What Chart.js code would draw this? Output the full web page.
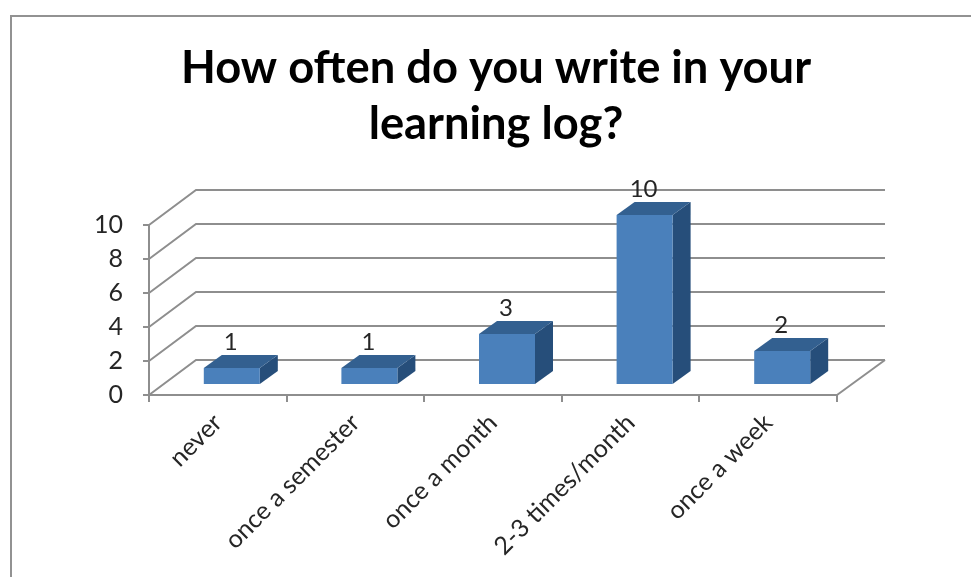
<!DOCTYPE html>
<html>
<head>
<meta charset="utf-8">
<script src="https://cdn.jsdelivr.net/npm/chart.js@4"></script>
<style>
  html, body { margin: 0; padding: 0; background: #fff; overflow: hidden; }
  #frame { position: absolute; left: 10px; top: 15px; width: 961px; height: 562px;
           border-top: 2px solid #929292; border-left: 2px solid #929292; box-sizing: border-box; }
  #wrap { position: absolute; left: 0; top: 0; width: 971px; height: 577px; filter: blur(0.4px); }
</style>
</head>
<body>
<div id="frame"></div>
<div id="wrap"><canvas id="chart"></canvas></div>
<script>
const titleLines = ["How often do you write in your", "learning log?"];
const categories = ["never", "once a semester", "once a month", "2-3 times/month", "once a week"];
const responses = [1, 1, 3, 10, 2];

const textColor = "#262626";
const gridColor = "#8e8e8e";
const frontColor = "#4a80bb";
const topColor = "#336090";
const sideColor = "#264e7a";

// fake 3d: back wall offset, and where the bars sit on the floor
const wallDx = 47, wallDy = 35;
const barDx = 14, barDy = 10;
const depthDx = 18, depthDy = 13;

function line(ctx, points) {
  ctx.beginPath();
  points.forEach((p, i) => (i ? ctx.lineTo(p[0], p[1]) : ctx.moveTo(p[0], p[1])));
  ctx.stroke();
}

function face(ctx, points, color) {
  ctx.beginPath();
  points.forEach((p, i) => (i ? ctx.lineTo(p[0], p[1]) : ctx.moveTo(p[0], p[1])));
  ctx.closePath();
  ctx.fillStyle = color;
  ctx.fill();
}

const fake3d = {
  id: "fake3d",
  beforeDraw(chart) {
    // centre the title on the whole frame, not on the padded area
    chart.titleBlock.left = 21;
    chart.titleBlock.right = 971;
  },
  beforeDatasetsDraw(chart) {
    const { ctx, scales } = chart;
    const left = scales.x.left, right = scales.x.right;
    ctx.save();
    ctx.strokeStyle = gridColor;
    ctx.lineWidth = 2;
    scales.y.ticks.forEach((tick) => {
      const y = scales.y.getPixelForValue(tick.value);
      line(ctx, [[left, y], [left + wallDx, y - wallDy], [right + wallDx + 1, y - wallDy]]);
    });
    const floor = scales.y.getPixelForValue(0);
    line(ctx, [[right, floor], [right + wallDx + 1, floor - wallDy]]);
    ctx.restore();
  },
  beforeDatasetDraw(chart, args) {
    const { ctx } = chart;
    ctx.save();
    ctx.translate(barDx, -barDy);
    chart.getDatasetMeta(args.index).data.forEach((bar) => {
      const l = bar.x - bar.width / 2, r = bar.x + bar.width / 2;
      face(ctx, [[r, bar.y], [r + depthDx, bar.y - depthDy], [r + depthDx, bar.base - depthDy], [r, bar.base]], sideColor);
      face(ctx, [[l, bar.y], [l + depthDx, bar.y - depthDy], [r + depthDx, bar.y - depthDy], [r, bar.y]], topColor);
    });
  },
  afterDatasetDraw(chart) {
    chart.ctx.restore();
  },
  afterDatasetsDraw(chart) {
    const { ctx } = chart;
    ctx.save();
    ctx.fillStyle = textColor;
    ctx.font = "24px Lato";
    ctx.textAlign = "center";
    ctx.textBaseline = "middle";
    chart.getDatasetMeta(0).data.forEach((bar, i) => {
      ctx.fillText(String(responses[i]), bar.x + 13, bar.y - 36);
    });
    ctx.restore();
  },
};

new Chart(document.querySelector("#chart"), {
  type: "bar",
  data: {
    labels: categories,
    datasets: [
      {
        data: responses,
        backgroundColor: frontColor,
        categoryPercentage: 1,
        barPercentage: 0.407,
        clip: false,
      },
    ],
  },
  options: {
    responsive: true,
    maintainAspectRatio: false,
    animation: false,
    layout: { padding: { left: 0, right: 134, top: 0, bottom: 0 } },
    plugins: {
      legend: { display: false },
      tooltip: { enabled: false },
      title: {
        display: true,
        text: titleLines,
        color: "#000",
        font: { family: "Lato", size: 45.3, weight: "bold", lineHeight: 1.236 },
        padding: { top: 40, bottom: 73 },
      },
    },
    scales: {
      x: {
        offset: true,
        border: { color: gridColor, width: 2 },
        grid: { color: gridColor, lineWidth: 2, drawOnChartArea: false, tickLength: 7, offset: true },
        ticks: {
          color: textColor,
          font: { family: "Lato", size: 25 },
          minRotation: 45,
          maxRotation: 45,
          padding: 6,
          autoSkip: false,
        },
        afterFit(scale) {
          scale.height = 182;
        },
      },
      y: {
        min: 0,
        max: 10,
        border: { color: gridColor, width: 2 },
        grid: { color: gridColor, lineWidth: 2, drawOnChartArea: false, tickLength: 6 },
        ticks: {
          stepSize: 2,
          color: textColor,
          font: { family: "Lato", size: 25 },
          padding: 20,
        },
        afterFit(scale) {
          scale.width = 149;
        },
      },
    },
  },
  plugins: [fake3d],
});
</script>
</body>
</html>
